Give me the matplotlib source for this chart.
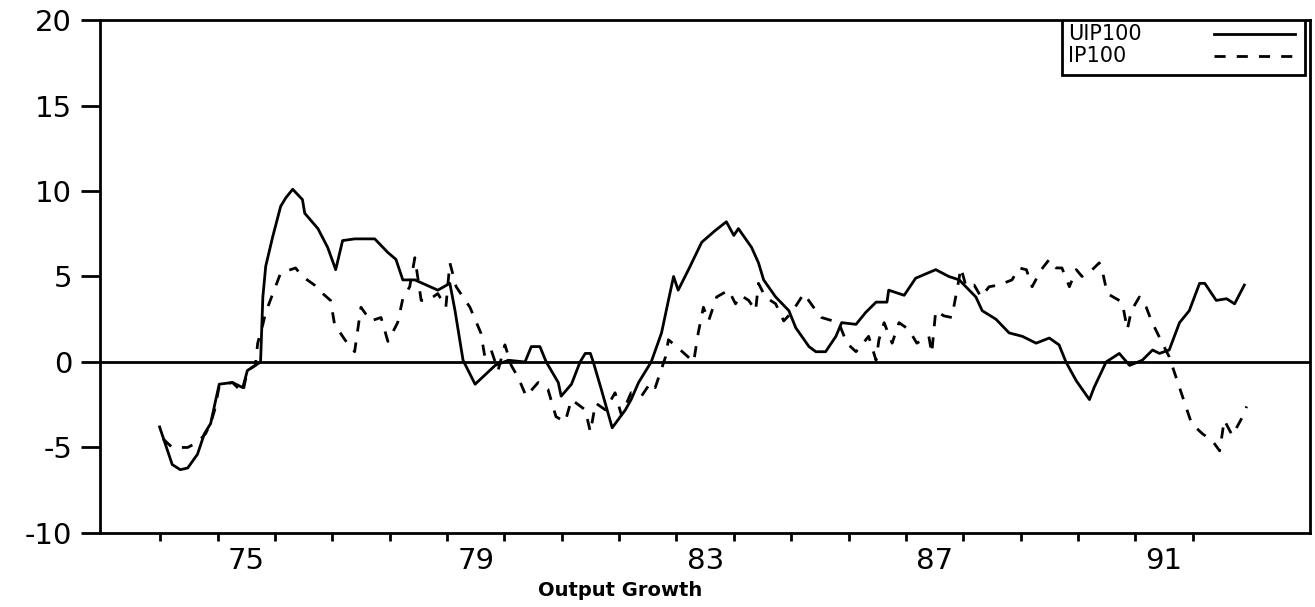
import numpy as np
import matplotlib.pyplot as plt
from matplotlib.patches import Rectangle

plt.rcParams['axes.unicode_minus'] = False

# UIP100 (solid) - year
uip_year = [73.99, 74.21, 74.35, 74.48, 74.65, 74.77, 74.88, 74.97, 75.03, 75.26,
            75.44, 75.52, 75.75, 75.79, 75.84, 75.96, 76.10, 76.19, 76.31, 76.48,
            76.52, 76.75, 76.92, 77.06, 77.18, 77.39, 77.74, 77.97, 78.11, 78.23,
            78.44, 78.84, 79.05, 79.14, 79.28, 79.49, 79.84, 80.07, 80.36, 80.47,
            80.62, 80.73, 80.94, 80.99, 81.17, 81.32, 81.41, 81.50, 81.55, 81.69,
            81.88, 82.11, 82.21, 82.34, 82.56, 82.74, 82.86, 82.95, 83.03, 83.21,
            83.44, 83.68, 83.87, 84.00, 84.08, 84.31, 84.43, 84.52, 84.73, 84.96,
            85.08, 85.31, 85.43, 85.60, 85.78, 85.88, 86.13, 86.30, 86.48, 86.67,
            86.70, 86.97, 87.17, 87.52, 87.75, 87.93, 88.22, 88.33, 88.57, 88.80,
            89.03, 89.27, 89.50, 89.67, 89.79, 89.97, 90.20, 90.28, 90.49, 90.72,
            90.90, 91.12, 91.30, 91.42, 91.59, 91.77, 91.94, 92.12, 92.21, 92.41,
            92.59, 92.73, 92.90]
uip_val = [-3.8, -6.0, -6.3, -6.2, -5.4, -4.2, -3.6, -2.2, -1.3, -1.2,
           -1.5, -0.5, 0.0, 3.8, 5.6, 7.3, 9.1, 9.6, 10.1, 9.5,
           8.7, 7.8, 6.7, 5.4, 7.1, 7.2, 7.2, 6.4, 6.0, 4.8,
           4.8, 4.2, 4.6, 3.0, 0.1, -1.3, -0.2, 0.1, 0.0, 0.9,
           0.9, 0.0, -1.2, -2.0, -1.3, 0.0, 0.5, 0.5, 0.0, -1.6,
           -3.85, -2.8, -2.2, -1.2, 0.0, 1.7, 3.6, 5.0, 4.2, 5.4,
           7.0, 7.7, 8.2, 7.4, 7.8, 6.7, 5.8, 4.8, 3.8, 3.0,
           2.0, 0.9, 0.6, 0.6, 1.5, 2.3, 2.2, 2.9, 3.5, 3.5,
           4.2, 3.9, 4.9, 5.4, 5.0, 4.8, 3.8, 3.0, 2.5, 1.7,
           1.5, 1.1, 1.4, 1.0, 0.0, -1.1, -2.2, -1.5, 0.0, 0.5,
           -0.2, 0.1, 0.7, 0.5, 0.7, 2.3, 3.0, 4.6, 4.6, 3.6,
           3.7, 3.4, 4.5]

# IP100 (dashed)
ip_year = [74.05, 74.21, 74.48, 74.65, 74.79, 74.88, 74.95, 75.03, 75.26, 75.44,
           75.52, 75.66, 75.70, 75.79, 75.84, 76.10, 76.36, 76.48, 76.69, 76.80,
           76.97, 77.04, 77.22, 77.39, 77.45, 77.50, 77.67, 77.85, 77.97, 78.14,
           78.23, 78.35, 78.44, 78.55, 78.67, 78.84, 78.98, 79.05, 79.16, 79.40,
           79.59, 79.66, 79.77, 79.89, 80.01, 80.12, 80.24, 80.38, 80.59, 80.76,
           80.90, 81.06, 81.17, 81.41, 81.50, 81.59, 81.76, 81.93, 82.04, 82.21,
           82.39, 82.55, 82.63, 82.81, 82.86, 83.07, 83.30, 83.38, 83.47, 83.56,
           83.70, 83.91, 84.03, 84.12, 84.26, 84.38, 84.43, 84.55, 84.73, 84.87,
           85.01, 85.22, 85.39, 85.53, 85.83, 85.97, 86.13, 86.35, 86.48, 86.53,
           86.62, 86.76, 86.88, 87.05, 87.19, 87.40, 87.45, 87.52, 87.66, 87.80,
           87.89, 87.96, 88.05, 88.19, 88.31, 88.45, 88.62, 88.85, 88.97, 89.10,
           89.20, 89.36, 89.50, 89.62, 89.72, 89.85, 89.97, 90.07, 90.25, 90.37,
           90.42, 90.51, 90.77, 90.86, 90.93, 91.07, 91.19, 91.28, 91.47, 91.59,
           91.68, 91.82, 91.98, 92.17, 92.34, 92.47, 92.55, 92.69, 92.87, 92.94]
ip_val = [-4.5, -5.0, -5.0, -4.7, -4.2, -3.6, -2.8, -1.4, -1.2, -1.8,
          -0.5, -0.2, 1.1, 2.2, 2.9, 5.2, 5.5, 5.0, 4.5, 4.1,
          3.6, 2.2, 1.3, 0.6, 2.0, 3.2, 2.4, 2.6, 1.2, 2.3,
          3.7, 4.4, 6.1, 3.6, 3.6, 4.0, 3.2, 5.8, 4.4, 3.2,
          1.7, 0.3, 0.7, -0.5, 1.0, -0.2, -0.9, -2.0, -1.2, -1.6,
          -3.2, -3.5, -2.2, -2.8, -4.1, -2.4, -2.8, -1.8, -3.1, -1.8,
          -2.0, -1.2, -1.5, 0.3, 1.3, 0.7, 0.0, 1.7, 3.2, 2.4,
          3.8, 4.2, 3.4, 3.9, 3.6, 3.0, 4.6, 3.8, 3.4, 2.4,
          2.9, 4.0, 3.2, 2.6, 2.3, 1.1, 0.6, 1.5, 0.1, 1.3,
          2.3, 1.1, 2.3, 1.9, 1.1, 1.5, 0.5, 3.0, 2.7, 2.6,
          4.2, 5.5, 4.4, 4.5, 3.8, 4.4, 4.5, 4.8, 5.5, 5.4,
          4.4, 5.4, 6.0, 5.5, 5.5, 4.4, 5.4, 5.0, 5.4, 5.8,
          5.4, 4.0, 3.5, 1.9, 3.0, 3.8, 3.2, 2.4, 1.1, 0.3,
          -0.6, -2.0, -3.6, -4.2, -4.6, -5.2, -3.4, -4.3, -3.2, -2.6]

year_ticks = list(range(74, 93))
label_years = [75, 79, 83, 87, 91]
series_names = ['UIP100', 'IP100']

fig = plt.figure(figsize=(13.15, 6.07), dpi=100)
ax = fig.add_axes([0.076, 0.122, 0.92, 0.845])

ax.axhline(0, color='black', lw=2)
ax.plot(uip_year, uip_val, color='black', lw=2)
ax.plot(ip_year, ip_val, color='black', lw=2, ls=(0, (4, 4)))

ax.set_xlim(72.95, 94.04)
ax.set_ylim(-10, 20)
ax.set_yticks([-10, -5, 0, 5, 10, 15, 20])

ax.set_xticks(year_ticks)
ax.set_xticklabels([])
ax.set_xticks([y + 0.5 for y in label_years], minor=True)
ax.set_xticklabels([str(y) for y in label_years], minor=True)
ax.tick_params(axis='x', which='major', direction='out', length=6, width=2)
ax.tick_params(axis='x', which='minor', length=0, labelsize=21, pad=10)
ax.tick_params(axis='y', direction='out', length=14, width=2, labelsize=21, pad=6)

for s in ax.spines.values():
    s.set_linewidth(2)

# legend box, text left / line sample right
tr = ax.transAxes
ax.add_patch(Rectangle((0.795, 0.893), 0.201, 0.107, transform=tr, fill=True,
                       facecolor='white', edgecolor='black', lw=2, zorder=5))
ax.text(0.800, 0.973, series_names[0], transform=tr, fontsize=15,
        va='center', ha='left', zorder=6)
ax.text(0.800, 0.930, series_names[1], transform=tr, fontsize=15,
        va='center', ha='left', zorder=6)
ax.plot([0.921, 0.988], [0.973, 0.973], transform=tr, color='black', lw=2, zorder=6)
ax.plot([0.921, 0.988], [0.930, 0.930], transform=tr, color='black', lw=2,
        ls=(0, (4, 4)), zorder=6)

fig.text(620 / 1315, 1 - 590 / 607, 'Output Growth', ha='center', va='center',
         fontsize=14, fontweight='bold')

fig.savefig('out.png', dpi=100)
